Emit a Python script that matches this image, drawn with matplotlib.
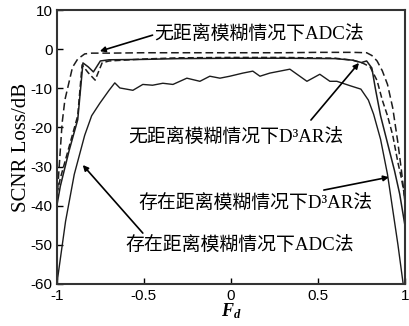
import numpy as np
import matplotlib
matplotlib.use('Agg')
import matplotlib.pyplot as plt

plt.rcParams['axes.unicode_minus'] = False
plt.rcParams['mathtext.fontset'] = 'custom'
plt.rcParams['mathtext.it'] = 'Liberation Serif:italic:bold'
plt.rcParams['mathtext.rm'] = 'Liberation Serif'

# no range ambiguity, ADC (dashed, top)
fa_adc0 = [-1, -0.97, -0.954, -0.91, -0.88, -0.84, -0.8, -0.7, -0.5, -0.3, 0, 0.3, 0.5, 0.7, 0.78, 0.81,
           0.84, 0.87, 0.9, 0.93, 0.96, 0.98, 1]
loss_adc0 = [-39, -19, -13, -4.6, -2.5, -1.2, -1.0, -1.0, -0.9, -0.9, -0.9, -0.9, -0.8, -0.8, -0.9, -1.6,
             -3.0, -5.5, -9, -15, -24, -31, -39]

# no range ambiguity, D3AR (solid)
fa_d3ar0 = [-1, -0.98, -0.93, -0.88, -0.85, -0.82, -0.79, -0.75, -0.7, -0.5, -0.3, 0, 0.3, 0.6, 0.7,
            0.75, 0.78, 0.81, 0.83, 0.86, 0.9, 0.94, 0.97, 1]
loss_d3ar0 = [-40, -35, -26, -18, -3.5, -4.5, -5.8, -3.0, -2.7, -2.6, -2.4, -2.3, -2.3, -2.4, -2.8,
              -3.4, -3.0, -4.8, -10, -17, -24, -31, -37, -45]

# range ambiguity, D3AR (dashed)
fa_d3ar1 = [-1, -0.98, -0.93, -0.88, -0.855, -0.82, -0.78, -0.74, -0.7, -0.5, -0.3, 0, 0.3, 0.6, 0.7,
            0.76, 0.8, 0.84, 0.87, 0.9, 0.93, 0.96, 0.98, 1]
loss_d3ar1 = [-37, -33, -25, -17, -4, -6, -7.9, -3.5, -3.0, -2.5, -2.2, -2.1, -2.1, -2.3, -2.8,
              -3.6, -4.5, -8, -13, -17, -22, -29, -33, -38]

# range ambiguity, ADC (solid, lowest)
fa_adc1 = [-1, -0.95, -0.9, -0.84, -0.8, -0.753, -0.7, -0.667, -0.638, -0.563, -0.506, -0.45, -0.391,
           -0.333, -0.253, -0.178, -0.121, -0.063, -0.006, 0.069, 0.126, 0.167, 0.224, 0.339, 0.437,
           0.511, 0.569, 0.609, 0.69, 0.747, 0.79, 0.82, 0.86, 0.9, 0.93, 0.96, 0.99]
loss_adc1 = [-60, -44, -32, -22, -17, -13.8, -10.5, -8.6, -9.9, -10.5, -9.0, -9.2, -8.7,
             -9.0, -7.4, -8.2, -6.9, -7.4, -6.9, -6.1, -5.6, -6.9, -6.1, -5.1, -8.2,
             -6.4, -8.2, -8.2, -9.4, -10.2, -13, -16.6, -23, -32, -41, -50, -60]

lc = '#1c1c1c'
fig = plt.figure(figsize=(4.09, 3.26), dpi=100)
ax = fig.add_axes([0.139, 0.129, 0.851, 0.840])

ax.plot(fa_adc0, loss_adc0, color=lc, lw=1.1, ls=(0, (5, 2.5)))
ax.plot(fa_d3ar0, loss_d3ar0, color=lc, lw=1.1)
ax.plot(fa_d3ar1, loss_d3ar1, color=lc, lw=1.1, ls=(0, (4, 2)))
ax.plot(fa_adc1, loss_adc1, color=lc, lw=1.0)

ax.set_xlim(-1, 1)
ax.set_ylim(-60, 10)
ax.set_xticks([-1, -0.5, 0, 0.5, 1])
ax.set_xticklabels(['-1', '-0.5', '0', '0.5', '1'])
ax.set_yticks(range(-60, 11, 10))
ax.tick_params(direction='in', length=4, width=1, labelsize=11,
               top=False, right=False)
ax.tick_params(axis='x', pad=3.5)
ax.tick_params(axis='y', pad=3)
for lab in ax.get_xticklabels() + ax.get_yticklabels():
    lab.set_family('Liberation Sans')
for s in ax.spines.values():
    s.set_linewidth(1.5)
    s.set_color('#333333')

ax.set_ylabel('SCNR Loss/dB', family='Liberation Serif', fontsize=15, labelpad=0)
ax.set_xlabel(r'$F_d$', fontsize=13, labelpad=-1)

tfont = dict(family=['Liberation Serif', 'Noto Sans CJK SC'], fontsize=13.6,
             ha='left', va='center')
aprops = dict(arrowstyle='-|>', color='black', lw=1.2, mutation_scale=8,
              shrinkA=0, shrinkB=0)

ax.text(-0.44, 3.9, '无距离模糊情况下ADC法', **tfont)
ax.annotate('', xy=(-0.753, -0.5), xytext=(-0.45, 3.6), arrowprops=aprops)

ax.text(-0.592, -22.3, '无距离模糊情况下D³AR法', **tfont)
ax.annotate('', xy=(0.736, -3.5), xytext=(0.46, -18.1), arrowprops=aprops)

ax.text(-0.534, -39.3, '存在距离模糊情况下D³AR法', **tfont)
ax.annotate('', xy=(0.908, -32.7), xytext=(0.534, -36), arrowprops=aprops)

ax.text(-0.609, -50, '存在距离模糊情况下ADC法', **tfont)
ax.annotate('', xy=(-0.851, -29.6), xytext=(-0.506, -47), arrowprops=aprops)

fig.savefig('out.png', dpi=100)
